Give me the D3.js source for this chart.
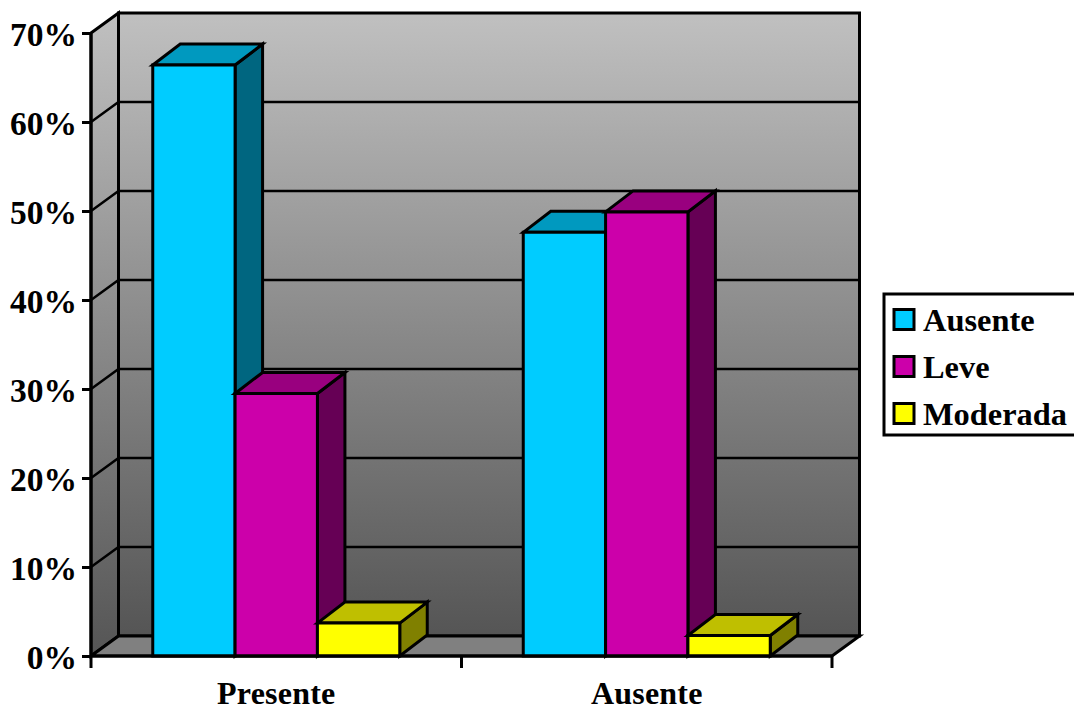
<!DOCTYPE html>
<html>
<head>
<meta charset="utf-8">
<script src="https://cdn.jsdelivr.net/npm/d3@7/dist/d3.min.js"></script>
<style>
html, body { margin: 0; padding: 0; background: #fff; overflow: hidden; }
svg { display: block; }
text { font-family: "Liberation Serif", "Times New Roman", serif; font-weight: bold; fill: #000; }
</style>
</head>
<body>
<svg id="chart" width="1074" height="711"></svg>
<script>
// Chart values (percent)
const categories = ["Presente", "Ausente"];
const seriesNames = ["Ausente", "Leve", "Moderada"];
const ausente = [66.4, 47.6];
const leve = [29.5, 49.9];
const moderada = [3.7, 2.3];
const seriesValues = [ausente, leve, moderada];
const tickValues = [0, 10, 20, 30, 40, 50, 60, 70];

const frontColors = ["#00ccff", "#cc00aa", "#ffff00"];
const topColors = ["#0099bf", "#99007f", "#bfbf00"];
const sideColors = ["#006680", "#660055", "#808000"];

// Oblique projection offset from the front plane to the back wall
const depthX = 27.5, depthY = -20;
const barDepthY = -21;

const svg = d3.select("#chart");
const x = d3.scaleBand().domain(categories).range([91, 832]);
const y = d3.scaleLinear().domain([0, 70]).range([656, 33]);
const inner = d3.scaleBand().domain(seriesNames)
  .range([x.bandwidth() / 6, x.bandwidth() * 5 / 6]);

const defs = svg.append("defs");
const grad = defs.append("linearGradient").attr("id", "wall")
  .attr("x1", 0).attr("y1", 0).attr("x2", 0).attr("y2", 1);
grad.append("stop").attr("offset", 0).attr("stop-color", "#c0c0c0");
grad.append("stop").attr("offset", 1).attr("stop-color", "#555555");

const poly = pts => "M" + pts.map(p => p.join(",")).join("L") + "Z";
const x0 = x.range()[0], x1 = x.range()[1];
const yBase = y(0), yTop = y(70);
const outline = { stroke: "#000", "stroke-width": 3, "stroke-linejoin": "miter" };
const applyAttrs = (sel, attrs) => { Object.entries(attrs).forEach(([k, v]) => sel.attr(k, v)); return sel; };

// Walls and floor
applyAttrs(svg.append("path").attr("fill", "url(#wall)").attr("d", poly([
  [x0 + depthX, yTop + depthY], [x1 + depthX, yTop + depthY],
  [x1 + depthX, yBase + depthY], [x0 + depthX, yBase + depthY]
])), outline);
applyAttrs(svg.append("path").attr("fill", "url(#wall)").attr("d", poly([
  [x0, yTop], [x0 + depthX, yTop + depthY],
  [x0 + depthX, yBase + depthY], [x0, yBase]
])), outline);
applyAttrs(svg.append("path").attr("fill", "#808080").attr("d", poly([
  [x0, yBase], [x0 + depthX, yBase + depthY],
  [x1 + depthX, yBase + depthY], [x1, yBase]
])), outline);

// Gridlines running along the side wall and back wall
svg.append("g").selectAll("path").data(tickValues.slice(1, -1)).join("path")
  .attr("fill", "none").attr("stroke", "#000").attr("stroke-width", 2.5)
  .attr("d", v => `M${x0},${y(v)}L${x0 + depthX},${y(v) + depthY}L${x1 + depthX},${y(v) + depthY}`);

// Bars, drawn category by category so later boxes overlap earlier ones
const bars = svg.append("g");
categories.forEach((cat, ci) => {
  seriesNames.forEach((name, si) => {
    const left = x(cat) + inner(name);
    const right = left + inner.bandwidth();
    const top = y(seriesValues[si][ci]);
    applyAttrs(bars.append("path").attr("fill", sideColors[si]).attr("d", poly([
      [right, top], [right + depthX, top + barDepthY],
      [right + depthX, yBase + barDepthY], [right, yBase]
    ])), outline);
    applyAttrs(bars.append("path").attr("fill", topColors[si]).attr("d", poly([
      [left, top], [left + depthX, top + barDepthY],
      [right + depthX, top + barDepthY], [right, top]
    ])), outline);
    applyAttrs(bars.append("path").attr("fill", frontColors[si]).attr("d", poly([
      [left, top], [right, top], [right, yBase], [left, yBase]
    ])), outline);
  });
});

// Value axis
const yAxis = svg.append("g").attr("transform", `translate(${x0},0)`)
  .call(d3.axisLeft(y).tickValues(tickValues).tickSize(9).tickPadding(5).tickFormat(d => d + "%"));
yAxis.select(".domain").attr("stroke-width", 3).attr("d", `M0,${yTop}V${yBase}`);
yAxis.selectAll(".tick line").attr("stroke-width", 3);
yAxis.selectAll(".tick text")
  .attr("dy", "0.36em")
  .style("font-family", '"Liberation Serif", serif').style("font-weight", "bold")
  .style("font-size", "33.5px");

// Category axis: ticks sit on band boundaries, labels at band centres
const xAxis = svg.append("g").attr("transform", `translate(0,${yBase})`)
  .call(d3.axisBottom(x).tickSize(0).tickPadding(25));
xAxis.select(".domain").attr("stroke-width", 3).attr("d", `M${x0},0H${x1}`);
xAxis.selectAll(".tick text")
  .style("font-family", '"Liberation Serif", serif').style("font-weight", "bold")
  .style("font-size", "32px").style("letter-spacing", "0.2px");
xAxis.selectAll(".edge").data([x0, x(categories[1]), x1]).join("line")
  .attr("class", "edge").attr("stroke", "#000").attr("stroke-width", 3)
  .attr("x1", d => d).attr("x2", d => d).attr("y1", 0).attr("y2", 12);

// Legend
const legend = svg.append("g");
legend.append("rect").attr("x", 884).attr("y", 294).attr("width", 200).attr("height", 141)
  .attr("fill", "#fff").attr("stroke", "#000").attr("stroke-width", 3);
const legendY = d3.scalePoint().domain(seriesNames).range([319.5, 413.5]);
seriesNames.forEach((name, i) => {
  legend.append("rect").attr("x", 894).attr("y", legendY(name) - 10).attr("width", 20).attr("height", 20)
    .attr("fill", frontColors[i]).attr("stroke", "#000").attr("stroke-width", 3);
  legend.append("text").attr("x", 923).attr("y", legendY(name)).attr("dy", "0.37em")
    .style("font-size", "32.4px").text(name);
});
</script>
</body>
</html>
